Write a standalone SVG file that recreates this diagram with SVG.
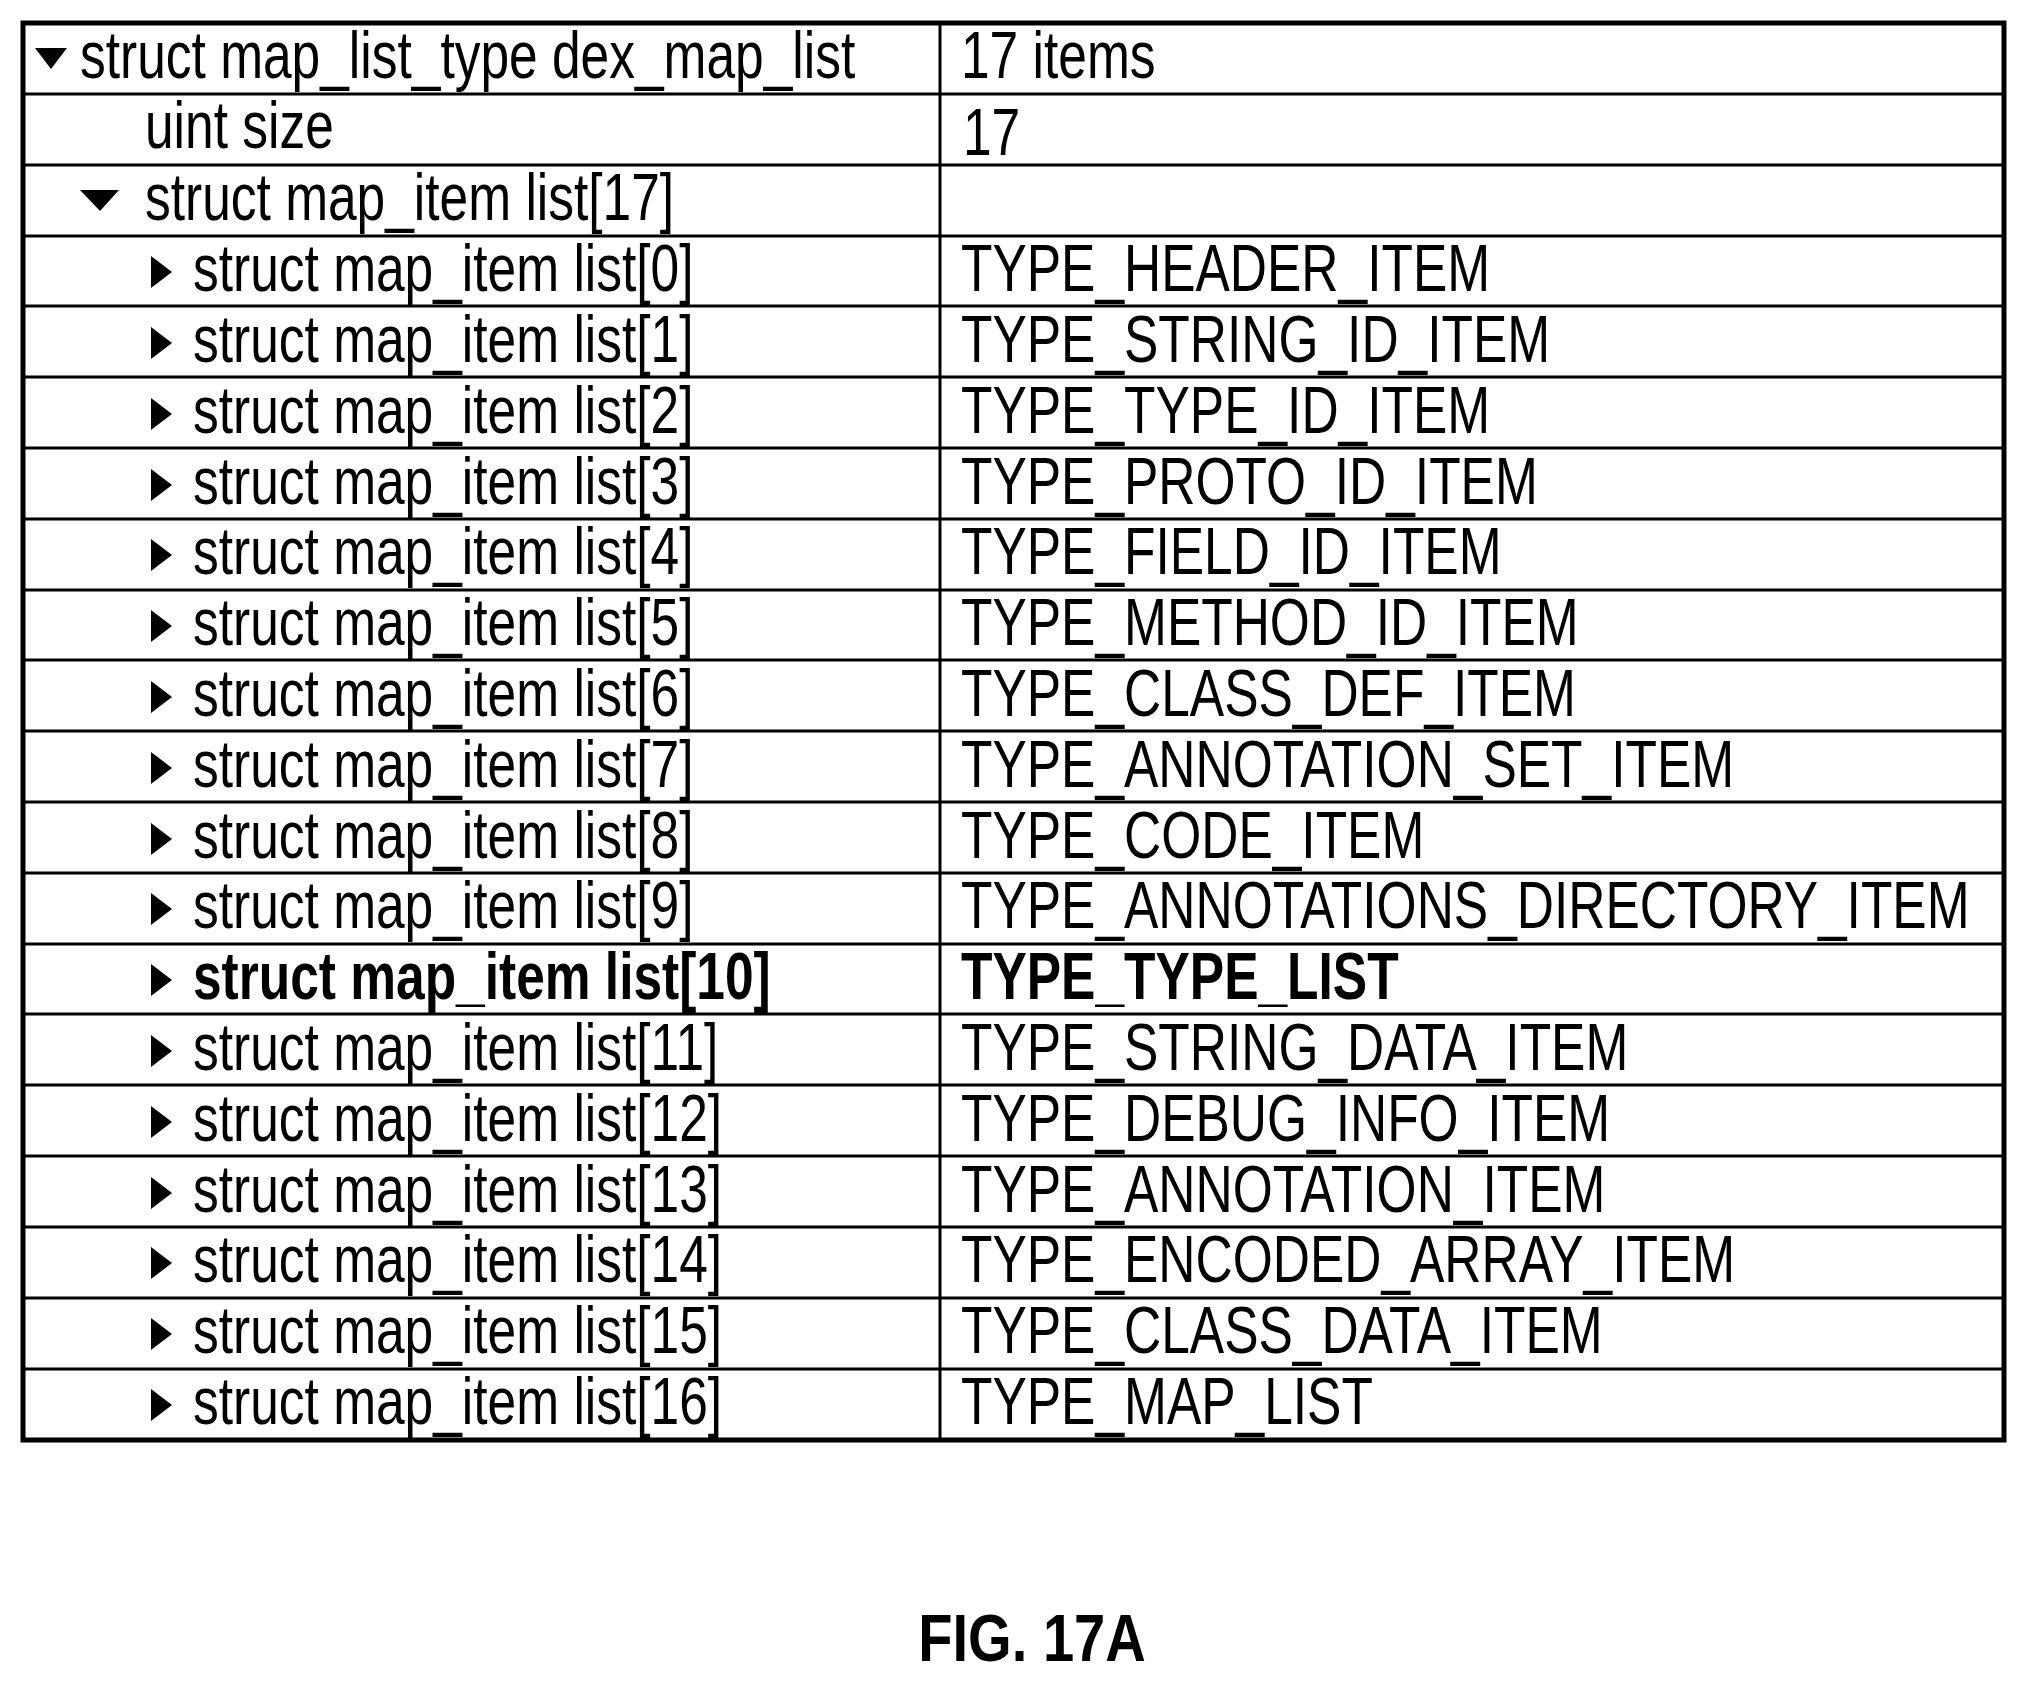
<svg xmlns="http://www.w3.org/2000/svg" width="2028" height="1685" viewBox="0 0 2028 1685">
<style>
.t{font-family:"Liberation Sans",Arial,sans-serif;font-size:66px;fill:#000}
.b{font-weight:bold}
.ln{stroke:#000;stroke-width:3;fill:none}
</style>
<rect width="2028" height="1685" fill="#fff"/>
<g id="table">
<rect x="23" y="23" width="1981" height="1417" fill="none" stroke="#000" stroke-width="5"/>
<line class="ln" x1="940" y1="23" x2="940" y2="1440"/>
<g id="rowlines">
<line class="ln" x1="23" y1="94" x2="2004" y2="94"/><line class="ln" x1="23" y1="165" x2="2004" y2="165"/>
<line class="ln" x1="23" y1="236" x2="2004" y2="236"/><line class="ln" x1="23" y1="306" x2="2004" y2="306"/>
<line class="ln" x1="23" y1="377" x2="2004" y2="377"/><line class="ln" x1="23" y1="448" x2="2004" y2="448"/>
<line class="ln" x1="23" y1="519" x2="2004" y2="519"/><line class="ln" x1="23" y1="590" x2="2004" y2="590"/>
<line class="ln" x1="23" y1="660" x2="2004" y2="660"/><line class="ln" x1="23" y1="731" x2="2004" y2="731"/>
<line class="ln" x1="23" y1="802" x2="2004" y2="802"/><line class="ln" x1="23" y1="873" x2="2004" y2="873"/>
<line class="ln" x1="23" y1="944" x2="2004" y2="944"/><line class="ln" x1="23" y1="1014" x2="2004" y2="1014"/>
<line class="ln" x1="23" y1="1085" x2="2004" y2="1085"/><line class="ln" x1="23" y1="1156" x2="2004" y2="1156"/>
<line class="ln" x1="23" y1="1227" x2="2004" y2="1227"/><line class="ln" x1="23" y1="1298" x2="2004" y2="1298"/>
<line class="ln" x1="23" y1="1369" x2="2004" y2="1369"/>
</g>
</g>
<g id="row0"><polygon points="35,48 67,48 51,69"/><text class="t" transform="translate(80,78) scale(0.78,1)">struct map_list_type dex_map_list</text><text class="t" transform="translate(961,78) scale(0.78,1)">17 items</text></g>
<g id="row1"><text class="t" transform="translate(145,148) scale(0.78,1)">uint size</text><text class="t" transform="translate(963,155) scale(0.78,1)">17</text></g>
<g id="row2"><polygon points="80,190 119,190 100,211"/><text class="t" transform="translate(145,220) scale(0.78,1)">struct map_item list[17]</text></g>
<g id="items">
<g id="r3"><polygon points="151,256 172,272 151,288"/><text class="t" transform="translate(193,291) scale(0.78,1)">struct map_item list[0]</text><text class="t" transform="translate(961,291) scale(0.78,1)">TYPE_HEADER_ITEM</text></g>
<g id="r4"><polygon points="151,327 172,343 151,359"/><text class="t" transform="translate(193,362) scale(0.78,1)">struct map_item list[1]</text><text class="t" transform="translate(961,362) scale(0.78,1)">TYPE_STRING_ID_ITEM</text></g>
<g id="r5"><polygon points="151,398 172,414 151,430"/><text class="t" transform="translate(193,433) scale(0.78,1)">struct map_item list[2]</text><text class="t" transform="translate(961,433) scale(0.78,1)">TYPE_TYPE_ID_ITEM</text></g>
<g id="r6"><polygon points="151,469 172,485 151,501"/><text class="t" transform="translate(193,504) scale(0.78,1)">struct map_item list[3]</text><text class="t" transform="translate(961,504) scale(0.78,1)">TYPE_PROTO_ID_ITEM</text></g>
<g id="r7"><polygon points="151,539 172,555 151,571"/><text class="t" transform="translate(193,574) scale(0.78,1)">struct map_item list[4]</text><text class="t" transform="translate(961,574) scale(0.78,1)">TYPE_FIELD_ID_ITEM</text></g>
<g id="r8"><polygon points="151,610 172,626 151,642"/><text class="t" transform="translate(193,645) scale(0.78,1)">struct map_item list[5]</text><text class="t" transform="translate(961,645) scale(0.78,1)">TYPE_METHOD_ID_ITEM</text></g>
<g id="r9"><polygon points="151,681 172,697 151,713"/><text class="t" transform="translate(193,716) scale(0.78,1)">struct map_item list[6]</text><text class="t" transform="translate(961,716) scale(0.78,1)">TYPE_CLASS_DEF_ITEM</text></g>
<g id="r10"><polygon points="151,752 172,768 151,784"/><text class="t" transform="translate(193,787) scale(0.78,1)">struct map_item list[7]</text><text class="t" transform="translate(961,787) scale(0.78,1)">TYPE_ANNOTATION_SET_ITEM</text></g>
<g id="r11"><polygon points="151,823 172,839 151,855"/><text class="t" transform="translate(193,858) scale(0.78,1)">struct map_item list[8]</text><text class="t" transform="translate(961,858) scale(0.78,1)">TYPE_CODE_ITEM</text></g>
<g id="r12"><polygon points="151,893 172,909 151,925"/><text class="t" transform="translate(193,928) scale(0.78,1)">struct map_item list[9]</text><text class="t" transform="translate(961,928) scale(0.78,1)">TYPE_ANNOTATIONS_DIRECTORY_ITEM</text></g>
<g id="r13"><polygon points="151,964 172,980 151,996"/><text class="t b" transform="translate(193,999) scale(0.78,1)">struct map_item list[10]</text><text class="t b" transform="translate(961,999) scale(0.78,1)">TYPE_TYPE_LIST</text></g>
<g id="r14"><polygon points="151,1035 172,1051 151,1067"/><text class="t" transform="translate(193,1070) scale(0.78,1)">struct map_item list[11]</text><text class="t" transform="translate(961,1070) scale(0.78,1)">TYPE_STRING_DATA_ITEM</text></g>
<g id="r15"><polygon points="151,1106 172,1122 151,1138"/><text class="t" transform="translate(193,1141) scale(0.78,1)">struct map_item list[12]</text><text class="t" transform="translate(961,1141) scale(0.78,1)">TYPE_DEBUG_INFO_ITEM</text></g>
<g id="r16"><polygon points="151,1177 172,1193 151,1209"/><text class="t" transform="translate(193,1212) scale(0.78,1)">struct map_item list[13]</text><text class="t" transform="translate(961,1212) scale(0.78,1)">TYPE_ANNOTATION_ITEM</text></g>
<g id="r17"><polygon points="151,1247 172,1263 151,1279"/><text class="t" transform="translate(193,1282) scale(0.78,1)">struct map_item list[14]</text><text class="t" transform="translate(961,1282) scale(0.78,1)">TYPE_ENCODED_ARRAY_ITEM</text></g>
<g id="r18"><polygon points="151,1318 172,1334 151,1350"/><text class="t" transform="translate(193,1353) scale(0.78,1)">struct map_item list[15]</text><text class="t" transform="translate(961,1353) scale(0.78,1)">TYPE_CLASS_DATA_ITEM</text></g>
<g id="r19"><polygon points="151,1389 172,1405 151,1421"/><text class="t" transform="translate(193,1424) scale(0.78,1)">struct map_item list[16]</text><text class="t" transform="translate(961,1424) scale(0.78,1)">TYPE_MAP_LIST</text></g>
</g>
<g id="caption"><text class="t b" font-size="70" text-anchor="middle" transform="translate(1032,1661) scale(0.85,1)">FIG. 17A</text></g>
</svg>
